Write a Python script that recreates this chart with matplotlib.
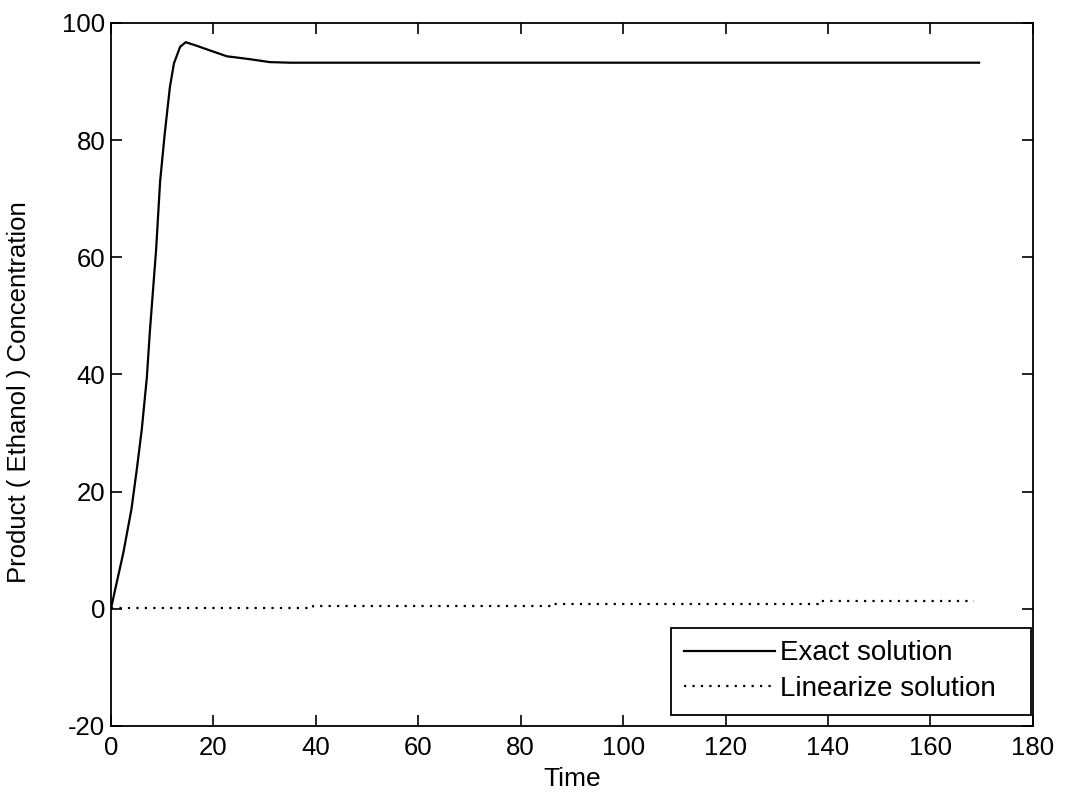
import matplotlib
matplotlib.use("Agg")
import matplotlib.pyplot as plt

# exact solution
t_exact = [0, 1.0, 2.4, 4.0, 5.0, 6.0, 7.0, 7.6, 8.3, 8.8, 9.6, 10.5, 11.5, 12.3,
           13.5, 14.6, 16.7, 19.3, 22.6, 27.1, 31.0, 35.0, 60.0, 100.0, 140.0, 169.5]
y_exact = [0, 4.0, 9.5, 17.0, 23.5, 30.5, 39.4, 47.4, 55.4, 61.1, 73.0, 81.1, 89.0, 93.1,
           95.9, 96.7, 96.1, 95.3, 94.3, 93.8, 93.3, 93.2, 93.2, 93.2, 93.2, 93.2]

# linearized solution, small steps
t_lin = [0, 39.5, 39.5, 86.5, 86.5, 138.0, 138.0, 168.5]
y_lin = [0.05, 0.05, 0.45, 0.45, 0.85, 0.85, 1.3, 1.3]

plt.rcParams['font.family'] = ['Liberation Sans', 'DejaVu Sans']
plt.rcParams['axes.unicode_minus'] = False

fig = plt.figure(figsize=(10.67, 7.99), dpi=100)
ax = fig.add_axes([0.104, 0.0914, 0.864, 0.88])

# trailing spaces leave the empty room MATLAB keeps at the right of the legend
ax.plot(t_exact, y_exact, color="black", linewidth=1.6, label="Exact solution   ")
ax.plot(t_lin, y_lin, color="black", linewidth=1.6, linestyle=(0, (1, 2.8)),
        label="Linearize solution   ")

ax.set_xlim(0, 180)
ax.set_ylim(-20, 100)
ax.set_xticks(range(0, 181, 20))
ax.set_yticks(range(-20, 101, 20))
ax.tick_params(direction="in", top=True, right=True, length=8, width=1.2,
               labelsize=18.5, pad=4)
ax.tick_params(axis="x", pad=7)
for s in ax.spines.values():
    s.set_linewidth(1.3)

ax.set_xlabel("Time", fontsize=19, labelpad=5)
ax.set_ylabel("Product ( Ethanol ) Concentration", fontsize=18.5)
ax.yaxis.set_label_coords(-0.087, 0.475)

leg = ax.legend(loc="lower right", bbox_to_anchor=(0.998, 0.016), fontsize=20,
                frameon=True, fancybox=False, edgecolor="black", framealpha=1,
                handlelength=3.3, handletextpad=0.15, borderaxespad=0,
                borderpad=0.45, labelspacing=0.35)
leg.get_frame().set_linewidth(1.3)

plt.savefig("out.png", dpi=100)
plt.close()
